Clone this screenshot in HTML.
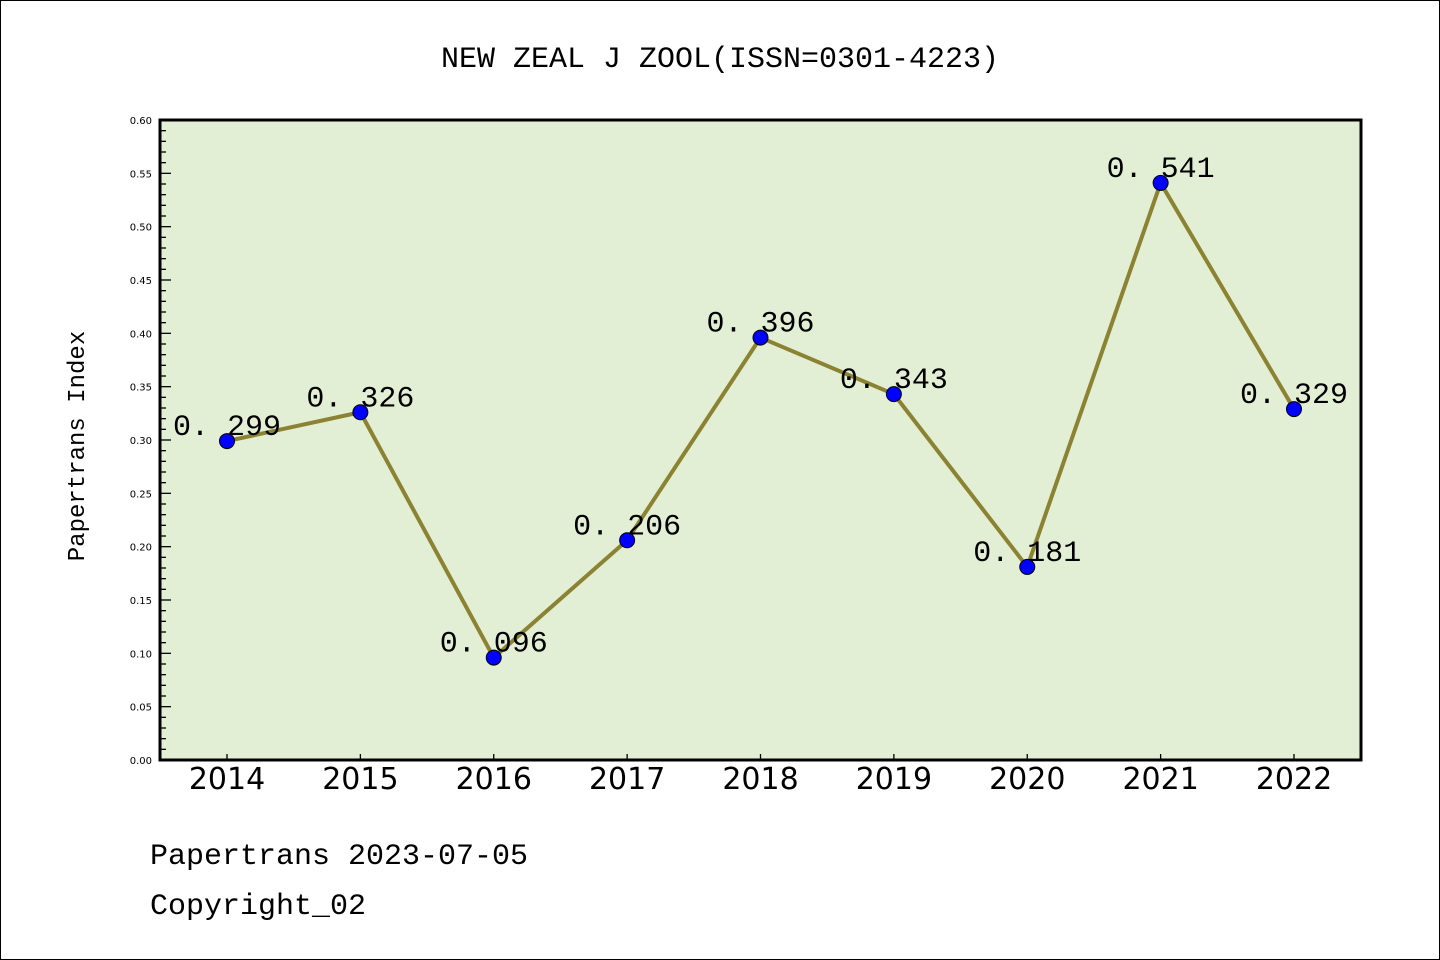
<!DOCTYPE html>
<html><head><meta charset="utf-8"><style>
html,body{margin:0;padding:0;background:#fff}
svg{display:block}
.mono{font-family:"WenQuanYi Zen Hei","Liberation Mono",monospace}
</style></head><body>
<svg width="1440" height="960" viewBox="0 0 1440 960">
<rect x="0.5" y="0.5" width="1439" height="959" fill="#fff" stroke="#000"/>
<text x="720" y="67" text-anchor="middle" font-size="30" class="mono">NEW ZEAL J ZOOL(ISSN=0301-4223)</text>
<rect x="160" y="120" width="1201" height="640" fill="#e2efd5"/>
<g id="ticks"></g>
<g id="series"></g>
<rect x="160" y="120" width="1201" height="640" fill="none" stroke="#000" stroke-width="3"/>
<text transform="translate(84,446) rotate(-90)" text-anchor="middle" font-size="24" class="mono">Papertrans Index</text>
<text x="150" y="864" font-size="30" class="mono">Papertrans 2023-07-05</text>
<text x="150" y="914" font-size="30" class="mono">Copyright_02</text>
</svg>
<script>
const years = ["2014","2015","2016","2017","2018","2019","2020","2021","2022"];
const values = [0.299,0.326,0.096,0.206,0.396,0.343,0.181,0.541,0.329];
const yTicks = ["0.00","0.05","0.10","0.15","0.20","0.25","0.30","0.35","0.40","0.45","0.50","0.55","0.60"];
const NS="http://www.w3.org/2000/svg";
const x0=227, dx=(1294-227)/(years.length-1);
const xs=i=>x0+i*dx;
const ys=v=>760-v/0.6*640;
function mk(t,a,p){const e=document.createElementNS(NS,t);for(const k in a)e.setAttribute(k,a[k]);p.appendChild(e);return e;}
const tg=document.getElementById('ticks');
for(let k=0;k<=60;k++){
  const y=ys(k/100); const major=k%5===0;
  const l=mk('line',{x1:160,x2:major?171:166,y1:y,y2:y,stroke:'#000','stroke-width':1.3},tg);
  
  
}
yTicks.forEach(s=>{
  const t=mk('text',{x:152,y:ys(parseFloat(s))+4,'text-anchor':'end','font-size':10,'font-family':'DejaVu Sans, sans-serif'},tg);
  t.textContent=s;
  
  
});
years.forEach((yr,i)=>{
  const l=mk('line',{x1:xs(i),x2:xs(i),y1:760,y2:754,stroke:'#000','stroke-width':1.3},tg);
  
  
  const t=mk('text',{x:xs(i),y:789,'text-anchor':'middle','font-size':30,'font-family':'DejaVu Sans, sans-serif'},tg);
  t.textContent=yr;
  
  
});
const sg=document.getElementById('series');
const pl=mk('polyline',{points:values.map((v,i)=>xs(i)+','+ys(v)).join(' '),fill:'none',stroke:'#8b8232','stroke-width':4,'stroke-linejoin':'round'},sg);


values.forEach((v,i)=>{
  const c=mk('circle',{cx:xs(i),cy:ys(v),r:7.5,fill:'#0000ff',stroke:'#000','stroke-width':1},sg);
  
  
});
values.forEach((v,i)=>{
  const t=mk('text',{x:xs(i),y:ys(v)-6,'text-anchor':'middle','font-size':30,'font-family':'WenQuanYi Zen Hei, Liberation Mono, monospace'},sg);
  t.textContent=v.toFixed(3).replace('.','. ');
  
  
});
</script>
</body></html>
